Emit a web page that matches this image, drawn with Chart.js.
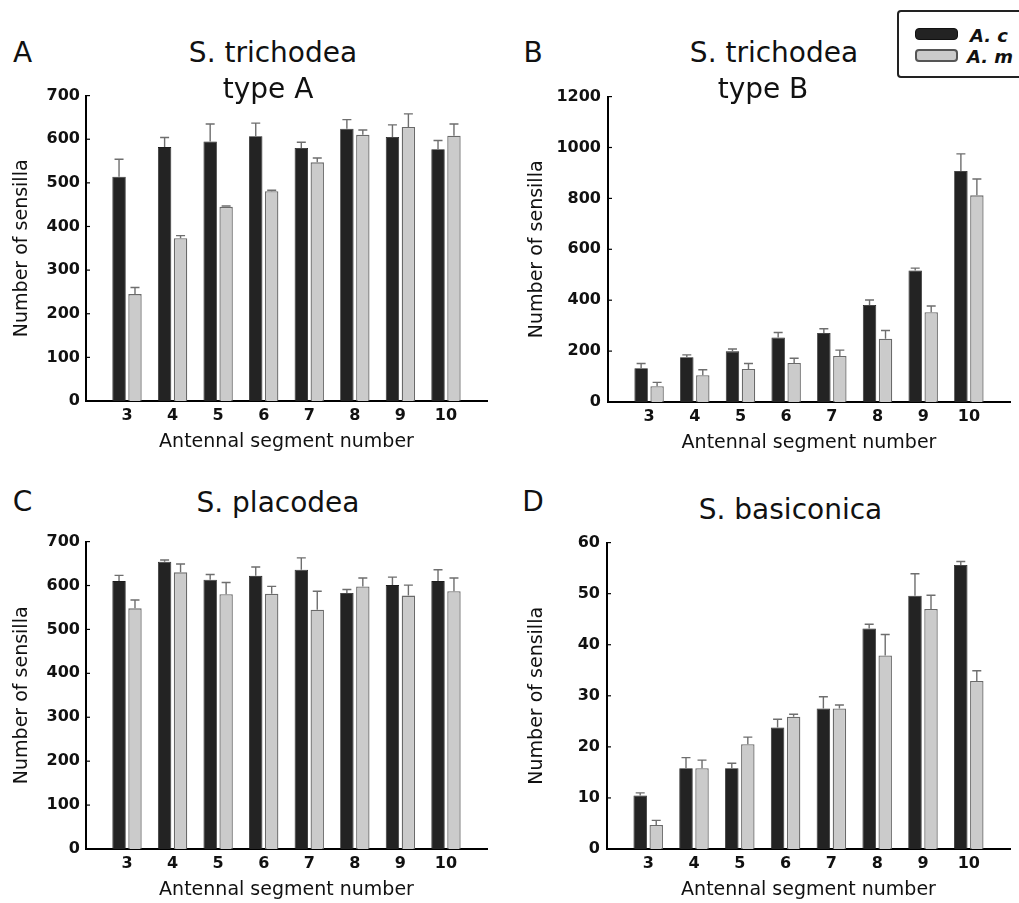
<!DOCTYPE html>
<html>
<head>
<meta charset="utf-8">
<script src="https://cdn.jsdelivr.net/npm/chart.js@4.4.1/dist/chart.umd.min.js"></script>
<style>
  html, body { margin: 0; padding: 0; background: #fff; }
  body { width: 1019px; height: 903px; position: relative; overflow: hidden; font-family: 'DejaVu Sans', sans-serif; color: #111; }
  canvas { position: absolute; }
  .txt { position: absolute; white-space: nowrap; line-height: 1; }
</style>
</head>
<body>
<canvas id="cA"></canvas>
<canvas id="cB"></canvas>
<canvas id="cC"></canvas>
<canvas id="cD"></canvas>
<script>
// ---------------- DATA ----------------
const segments = [3, 4, 5, 6, 7, 8, 9, 10];
const seriesNames = ['A. c', 'A. m'];

// Panel A: S. trichodea type A
const trichA_Ac     = [514, 582, 595, 607, 580, 624, 605, 577];
const trichA_AcErr  = [40, 22, 40, 30, 13, 21, 28, 20];
const trichA_Am     = [245, 373, 445, 481, 547, 610, 628, 608];
const trichA_AmErr  = [15, 6, 2, 2, 10, 11, 30, 27];

// Panel B: S. trichodea type B
const trichB_Ac     = [133, 176, 199, 253, 271, 381, 517, 908];
const trichB_AcErr  = [18, 9, 9, 20, 17, 20, 9, 67];
const trichB_Am     = [62, 105, 130, 153, 181, 249, 353, 812];
const trichB_AmErr  = [15, 22, 21, 19, 23, 32, 24, 64];

// Panel C: S. placodea
const placo_Ac      = [610, 654, 613, 622, 636, 583, 601, 610];
const placo_AcErr   = [13, 4, 12, 20, 27, 8, 18, 26];
const placo_Am      = [548, 630, 580, 581, 545, 598, 577, 587];
const placo_AmErr   = [19, 19, 27, 17, 42, 19, 24, 30];

// Panel D: S. basiconica
const basi_Ac       = [10.5, 15.8, 15.8, 23.8, 27.5, 43.2, 49.6, 55.6];
const basi_AcErr    = [0.5, 2.1, 1.0, 1.6, 2.3, 0.8, 4.3, 0.7];
const basi_Am       = [4.7, 15.8, 20.5, 25.9, 27.5, 37.9, 47.0, 32.9];
const basi_AmErr    = [0.9, 1.6, 1.4, 0.5, 0.7, 4.1, 2.7, 2.0];

// Y tick labels
const yTicksA = [0, 100, 200, 300, 400, 500, 600, 700];
const yTicksB = [0, 200, 400, 600, 800, 1000, 1200];
const yTicksC = [0, 100, 200, 300, 400, 500, 600, 700];
const yTicksD = [0, 10, 20, 30, 40, 50, 60];

const panelLetters = ['A', 'B', 'C', 'D'];
const xTitle = 'Antennal segment number';
const yTitle = 'Number of sensilla';

// ---------------- STYLE ----------------
const FONT = "'DejaVu Sans', sans-serif";
const barColors = ['#232323', '#cbcbcb'];
const barBorders = ['#1c1c1c', '#6a6a6a'];
const errColor = '#6e6e6e';

const errorBarPlugin = {
  id: 'errorBars',
  afterDatasetsDraw(chart) {
    const ctx = chart.ctx;
    const yScale = chart.scales.y;
    chart.data.datasets.forEach((ds, di) => {
      const meta = chart.getDatasetMeta(di);
      meta.data.forEach((el, i) => {
        const v = ds.data[i].y;
        const e = ds.errors[i];
        const yTop = yScale.getPixelForValue(v + e);
        ctx.save();
        ctx.strokeStyle = errColor;
        ctx.lineWidth = 1.4;
        ctx.beginPath();
        ctx.moveTo(el.x, el.y);
        ctx.lineTo(el.x, yTop);
        ctx.moveTo(el.x - 4.5, yTop);
        ctx.lineTo(el.x + 4.5, yTop);
        ctx.stroke();
        ctx.restore();
      });
    });
  }
};

const innerTicksPlugin = {
  id: 'innerTicks',
  afterDraw(chart) {
    const ctx = chart.ctx;
    const y = chart.scales.y;
    const left = chart.chartArea.left;
    ctx.save();
    ctx.strokeStyle = '#000';
    ctx.lineWidth = 1.2;
    y.ticks.forEach((t, i) => {
      if (i === 0) return;
      const p = y.getPixelForTick(i);
      ctx.beginPath();
      ctx.moveTo(left, p);
      ctx.lineTo(left + 4, p);
      ctx.stroke();
    });
    ctx.restore();
  }
};

function makePanel(id, geom, ac, acErr, am, amErr, yTicks) {
  const cv = document.getElementById(id);
  cv.width = geom.w; cv.height = geom.h;
  cv.style.left = geom.left + 'px';
  cv.style.top = geom.top + 'px';
  cv.style.width = geom.w + 'px';
  cv.style.height = geom.h + 'px';
  const series = [ac, am];
  const errs = [acErr, amErr];
  return new Chart(cv.getContext('2d'), {
    type: 'bar',
    data: {
      datasets: series.map((vals, k) => ({
        label: seriesNames[k],
        data: segments.map((s, i) => ({ x: s, y: vals[i] })),
        errors: errs[k],
        backgroundColor: barColors[k],
        borderColor: barBorders[k],
        borderWidth: k === 0 ? 0.8 : 1.3,
        categoryPercentage: 0.7,
        barPercentage: 0.84
      }))
    },
    options: {
      responsive: false,
      animation: false,
      events: [],
      layout: { padding: { left: 0, right: geom.padRight, top: geom.padTop, bottom: 0 } },
      plugins: { legend: { display: false }, tooltip: { enabled: false }, title: { display: false } },
      scales: {
        x: {
          type: 'linear',
          min: 2.1, max: 10.9,
          offset: false,
          grid: { display: false, drawTicks: false },
          border: { display: true, color: '#000', width: 2 },
          ticks: { padding: 5, color: '#111', font: { family: FONT, size: 16, weight: 'bold' },
                   autoSkip: false, maxRotation: 0, callback: v => String(v) },
          afterBuildTicks: s => { s.ticks = segments.map(v => ({ value: v })); },
          afterFit: s => { s.height = 55; },
          title: { display: true, text: xTitle, color: '#111',
                   font: { family: FONT, size: 19 }, padding: { top: 0, bottom: 3 } }
        },
        y: {
          min: yTicks[0], max: yTicks[yTicks.length - 1],
          grid: { display: false, drawTicks: false },
          border: { display: true, color: '#000', width: 2 },
          ticks: { padding: geom.tickPad, color: '#111', font: { family: FONT, size: 16, weight: 'bold' },
                   autoSkip: false, callback: v => String(v) },
          afterBuildTicks: s => { s.ticks = yTicks.map(v => ({ value: v })); },
          afterFit: s => { s.width = geom.yWidth; },
          title: { display: true, text: yTitle, color: '#111',
                   font: { family: FONT, size: 19 }, padding: { top: geom.yTitlePad, bottom: 0 } }
        }
      }
    },
    plugins: [errorBarPlugin, innerTicksPlugin]
  });
}

makePanel('cA', { left: 0,   top: 80,  w: 500, h: 376, padTop: 10, padRight: 13, yWidth: 86, tickPad: 6, yTitlePad: 11.1 },
          trichA_Ac, trichA_AcErr, trichA_Am, trichA_AmErr, yTicksA);
makePanel('cB', { left: 510, top: 80,  w: 509, h: 377, padTop: 10, padRight: 9,  yWidth: 98, tickPad: 7, yTitlePad: 16.1 },
          trichB_Ac, trichB_AcErr, trichB_Am, trichB_AmErr, yTicksB);
makePanel('cC', { left: 0,   top: 526, w: 500, h: 378, padTop: 10, padRight: 13, yWidth: 86, tickPad: 6, yTitlePad: 11.1 },
          placo_Ac, placo_AcErr, placo_Am, placo_AmErr, yTicksC);
makePanel('cD', { left: 510, top: 526, w: 509, h: 378, padTop: 10, padRight: 9,  yWidth: 97, tickPad: 7, yTitlePad: 16.1 },
          basi_Ac, basi_AcErr, basi_Am, basi_AmErr, yTicksD);

// ---------------- TEXT (titles, letters) ----------------
function placeText(text, cx, baseline, size, extra) {
  const d = document.createElement('div');
  d.className = 'txt';
  d.textContent = text;
  d.style.fontSize = size + 'px';
  d.style.top = (baseline - 0.846 * size) + 'px';
  d.style.left = cx + 'px';
  d.style.transform = 'translateX(-50%)';
  if (extra) Object.assign(d.style, extra);
  document.body.appendChild(d);
  return d;
}
placeText(panelLetters[0], 22.5, 63, 28);
placeText(panelLetters[1], 533, 63, 28);
placeText(panelLetters[2], 22.5, 511.7, 28);
placeText(panelLetters[3], 533, 512, 28);

placeText('S. trichodea', 273, 63, 28);
placeText('type A', 268, 99, 28);
placeText('S. trichodea', 774, 63, 28);
placeText('type B', 763, 99, 28);
placeText('S. placodea', 278, 512.7, 28);
placeText('S. basiconica', 790.5, 519.3, 28);

// ---------------- LEGEND ----------------
(function () {
  const box = document.createElement('div');
  Object.assign(box.style, { position: 'absolute', left: '897px', top: '10px', width: '140px', height: '68px',
    border: '2px solid #222', borderRadius: '4px', boxSizing: 'border-box' });
  document.body.appendChild(box);
  const rows = [{ top: 28, h: 12, base: 42 }, { top: 49, h: 13, base: 63 }];
  seriesNames.forEach((name, k) => {
    const sw = document.createElement('div');
    Object.assign(sw.style, { position: 'absolute', left: '915px', top: rows[k].top + 'px', width: '43px',
      height: rows[k].h + 'px', background: barColors[k], borderRadius: '4px', boxSizing: 'border-box',
      border: k === 1 ? '2px solid #555' : '1px solid #111' });
    document.body.appendChild(sw);
    const t = document.createElement('div');
    t.className = 'txt';
    t.textContent = name;
    Object.assign(t.style, { left: (k === 0 ? 970 : 967) + 'px', top: (rows[k].base - 0.846 * 18) + 'px',
      fontSize: '18px', fontWeight: 'bold', fontStyle: 'italic' });
    document.body.appendChild(t);
  });
})();
</script>
</body>
</html>
